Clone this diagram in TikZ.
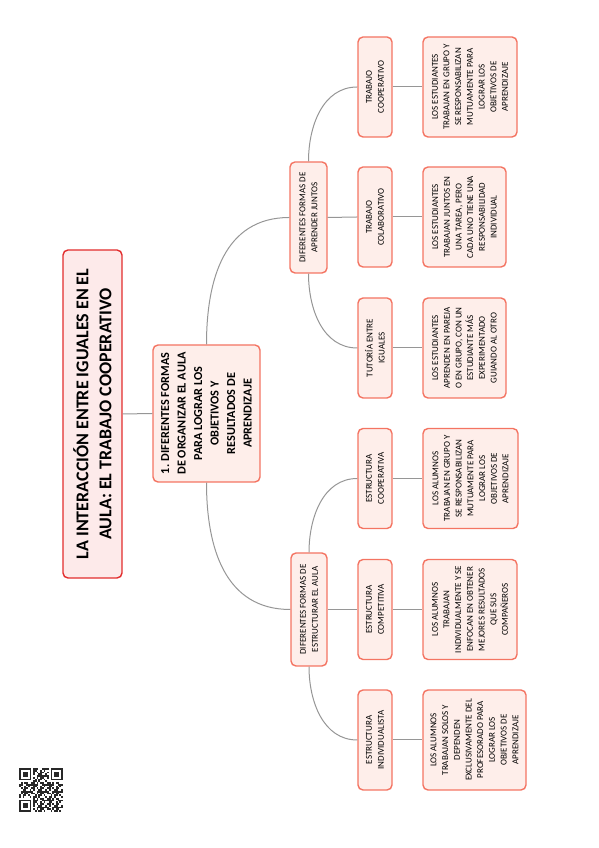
\documentclass[tikz,border=0pt]{standalone}
\usepackage{fontspec}
\setmainfont{Carlito}
\definecolor{rootred}{RGB}{226,45,45}
\definecolor{coral}{RGB}{244,116,98}
\definecolor{paleroot}{RGB}{253,234,234}
\definecolor{palepink}{RGB}{254,238,234}
\definecolor{linegray}{RGB}{150,150,150}
\definecolor{qrgray}{RGB}{40,40,40}
\usetikzlibrary{positioning}

\begin{document}
\begin{tikzpicture}[x=1pt, y=1pt,
    root/.style={rectangle, rounded corners=5pt, draw=rootred, line width=1.4pt, fill=paleroot, rotate=90, align=center, inner sep=0pt, font=\bfseries\fontsize{18}{23}\selectfont},
    branch/.style={rectangle, rounded corners=5pt, draw=coral, line width=1.4pt, fill=palepink, rotate=90, align=center, inner sep=0pt, font=\bfseries\fontsize{12.2}{16.5}\selectfont},
    group/.style={rectangle, rounded corners=5pt, draw=coral, line width=1.4pt, fill=palepink, rotate=90, align=center, inner sep=0pt, font=\fontsize{9}{12}\selectfont},
    topic/.style={group, minimum width=100pt, minimum height=34pt},
    leaf/.style={group, minimum width=100pt, font=\fontsize{9}{11.7}\selectfont},
    link/.style={draw=linegray, line width=1pt}
]
    \useasboundingbox (0,0) rectangle (599,848);

    \node[root, minimum width=328pt, minimum height=59pt] (title) at (92.5,434) {LA INTERACCIÓN ENTRE IGUALES EN EL\\AULA: EL TRABAJO COOPERATIVO};
    \node[branch, minimum width=137pt, minimum height=107pt] (formas) at (206.5,434.5) {1. DIFERENTES FORMAS\\DE ORGANIZAR EL AULA\\PARA LOGRAR LOS\\OBJETIVOS Y\\RESULTADOS DE\\APRENDIZAJE};

    \node[group, minimum width=111pt, minimum height=37pt] (juntos) at (308.5,630.5) {DIFERENTES FORMAS DE\\APRENDER JUNTOS};
    \node[group, minimum width=113pt, minimum height=36pt] (aula) at (309,238.5) {DIFERENTES FORMAS DE\\ESTRUCTURAR EL AULA};

    \node[topic] (coop) at (375,761) {TRABAJO\\COOPERATIVO};
    \node[topic] (colab) at (375,631) {TRABAJO\\COLABORATIVO};
    \node[topic] (tutoria) at (375,500) {TUTORÍA ENTRE\\IGUALES};
    \node[topic] (ecoop) at (375,369.5) {ESTRUCTURA\\COOPERATIVA};
    \node[topic] (ecomp) at (375,238.5) {ESTRUCTURA\\COMPETITIVA};
    \node[topic] (eindiv) at (375,108) {ESTRUCTURA\\INDIVIDUALISTA};

    \node[leaf, minimum height=94pt] (coopdef) at (470,761) {LOS ESTUDIANTES\\TRABAJAN EN GRUPO Y\\SE RESPONSABILIZAN\\MUTUAMENTE PARA\\LOGRAR LOS\\OBJETIVOS DE\\APRENDIZAJE};
    \node[leaf, minimum height=83pt] (colabdef) at (464.5,631) {LOS ESTUDIANTES\\TRABAJAN JUNTOS EN\\UNA TAREA, PERO\\CADA UNO TIENE UNA\\RESPONSABILIDAD\\INDIVIDUAL};
    \node[leaf, minimum height=83pt] (tutoriadef) at (464.5,500) {LOS ESTUDIANTES\\APRENDEN EN PAREJA\\O EN GRUPO, CON UN\\ESTUDIANTE MÁS\\EXPERIMENTADO\\GUIANDO AL OTRO};
    \node[leaf, minimum height=95pt] (ecoopdef) at (470.5,369.5) {LOS ALUMNOS\\TRABAJAN EN GRUPO Y\\SE RESPONSABILIZAN\\MUTUAMENTE PARA\\LOGRAR LOS\\OBJETIVOS DE\\APRENDIZAJE};
    \node[leaf, minimum height=94pt] (ecompdef) at (470,238.5) {LOS ALUMNOS\\TRABAJAN\\INDIVIDUALMENTE Y SE\\ENFOCAN EN OBTENER\\MEJORES RESULTADOS\\QUE SUS\\COMPAÑEROS};
    \node[leaf, minimum height=103pt] (eindivdef) at (474.5,108) {LOS ALUMNOS\\TRABAJAN SOLOS Y\\DEPENDEN\\EXCLUSIVAMENTE DEL\\PROFESORADO PARA\\LOGRAR LOS\\OBJETIVOS DE\\APRENDIZAJE};

    \draw[link] (title.south) -- (formas.north);
    \draw[link] (formas.east) to[out=90, in=180, looseness=1.1] (juntos.north);
    \draw[link] (formas.west) to[out=-90, in=180, looseness=1.1] (aula.north);

    \draw[link] (juntos.east) to[out=90, in=180] (coop.north);
    \draw[link] (juntos.south) -- (colab.north);
    \draw[link] (juntos.west) to[out=-90, in=180] (tutoria.north);
    \draw[link] (aula.east) to[out=90, in=180] (ecoop.north);
    \draw[link] (aula.south) -- (ecomp.north);
    \draw[link] (aula.west) to[out=-90, in=180] (eindiv.north);

    \draw[link] (coop.south) -- (coopdef.north);
    \draw[link] (colab.south) -- (colabdef.north);
    \draw[link] (tutoria.south) -- (tutoriadef.north);
    \draw[link] (ecoop.south) -- (ecoopdef.north);
    \draw[link] (ecomp.south) -- (ecompdef.north);
    \draw[link] (eindiv.south) -- (eindivdef.north);

    \begin{scope}[shift={(19,36)}, x=1.76pt, y=1.76pt, qrgray]
        \foreach \i in {0,...,24}{
            \foreach \j in {0,...,24}{
                \pgfmathtruncatemacro\qrbit{mod(\i*\i*7+\j*\j*5+\i*\j*3+\j*11+\i,9)}
                \ifnum\qrbit<4 \fill (\i,\j) rectangle ++(1,1); \fi
            }
        }
        \foreach \wx/\wy/\cx/\cy in {0/0/0/0, 0/17/0/18, 17/17/18/18}{
            \fill[white] (\wx,\wy) rectangle ++(8,8);
            \fill (\cx,\cy) rectangle ++(7,7);
            \fill[white] (\cx+1,\cy+1) rectangle ++(5,5);
            \fill (\cx+2,\cy+2) rectangle ++(3,3);
        }
    \end{scope}
\end{tikzpicture}
\end{document}
